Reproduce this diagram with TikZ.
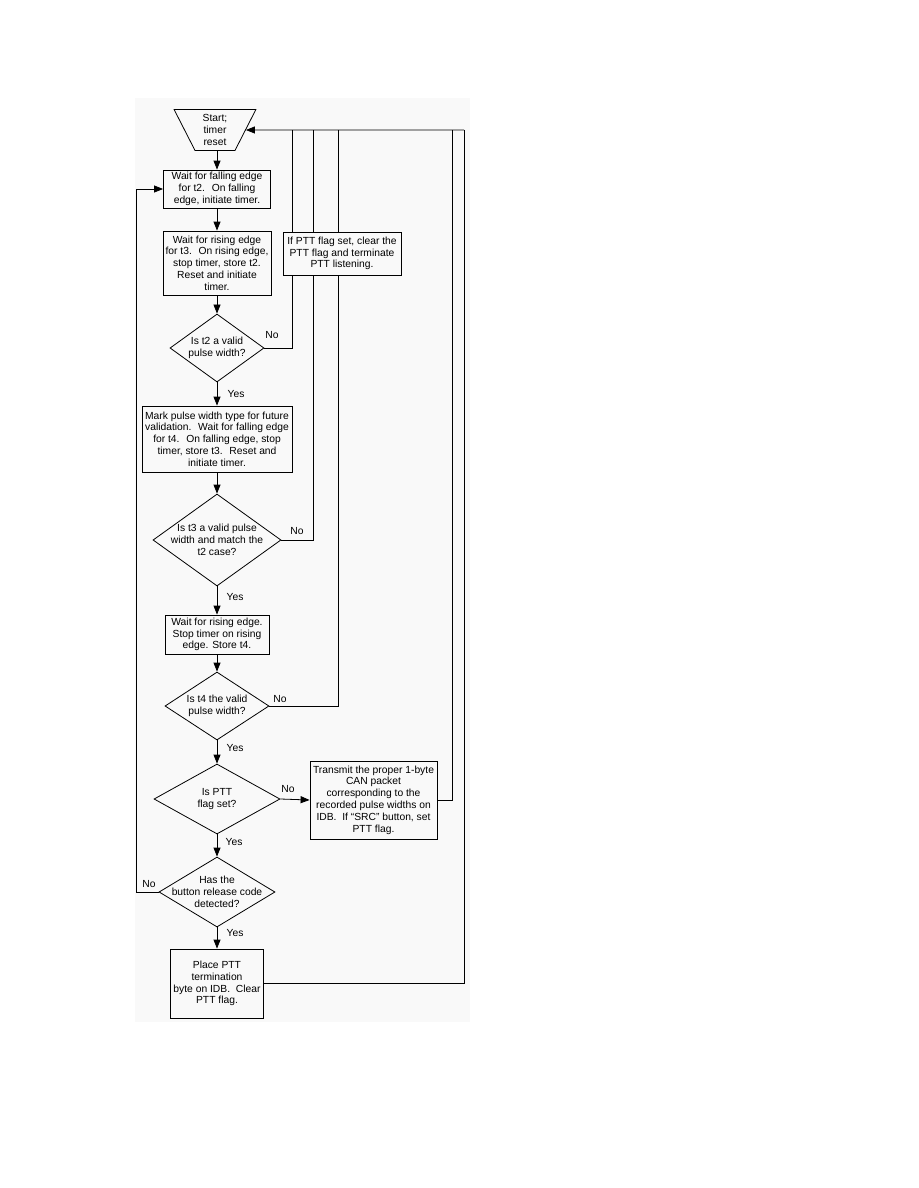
\documentclass[tikz,border=0pt]{standalone}
\usepackage{fontspec}
\setmainfont{Liberation Sans}
\usetikzlibrary{shapes.geometric,arrows.meta,calc}
\definecolor{bgc}{gray}{0.975}
\begin{document}
\begin{tikzpicture}[x=1pt,y=-1pt,
  every node/.style={font=\fontsize{10.3}{11.8}\selectfont},
  box/.style={draw, line width=0.8pt, fill=bgc, align=center, inner sep=0pt},
  dia/.style={draw, diamond, line width=0.8pt, fill=bgc, inner sep=0pt, aspect=1},
  txt/.style={align=center, inner sep=0pt},
  lbl/.style={inner sep=0pt},
  ln/.style={line width=0.8pt},
  arr/.style={line width=0.8pt, -{Triangle[length=9pt,width=7pt]}}]
\useasboundingbox (0,0) rectangle (918,1188);
\fill[bgc] (135,98) rectangle (470,1022);

% start
\node[trapezium, draw, line width=0.8pt, fill=bgc, trapezium stretches=true,
  shape border rotate=180, trapezium angle=67, minimum width=82pt,
  minimum height=41pt, inner sep=1pt, align=center] (start) at (215,130)
  {Start;\\timer\\reset};

\node[box, minimum width=107pt, minimum height=38pt] (wait1) at (217,189)
  {Wait for falling edge\\for t2.~ On falling\\edge, initiate timer.};
\node[box, minimum width=108pt, minimum height=64pt] (wait2) at (217,263)
  {Wait for rising edge\\for t3.~ On rising edge,\\stop timer, store t2.\\Reset and initiate\\timer.};

\node[dia, minimum width=94pt, minimum height=68pt] (d1) at (217,348) {};
\node[txt] (d1t) at (d1) {Is t2 a valid\\pulse width?};

\node[box, minimum width=150pt, minimum height=66pt] (mark) at (217,439)
  {Mark pulse width type for future\\validation.~ Wait for falling edge\\for t4.~ On falling edge, stop\\timer, store t3.~ Reset and\\initiate timer.};

\node[dia, minimum width=128pt, minimum height=92pt] (d2) at (217,540) {};
\node[txt] (d2t) at (d2) {Is t3 a valid pulse\\width and match the\\t2 case?};

\node[box, minimum width=104pt, minimum height=39pt] (wait3) at (217,634.5)
  {Wait for rising edge.\\Stop timer on rising\\edge. Store t4.};

\node[dia, minimum width=104pt, minimum height=68pt] (d3) at (217,706) {};
\node[txt] (d3t) at (d3) {Is t4 the valid\\pulse width?};

\node[dia, minimum width=126pt, minimum height=70pt] (d4) at (217,799) {};
\node[txt] (d4t) at (d4) {Is PTT\\flag set?};

\node[box, minimum width=127pt, minimum height=78pt] (trans) at (373.5,800)
  {Transmit the proper 1-byte\\CAN packet\\corresponding to the\\recorded pulse widths on\\IDB.~ If “SRC” button, set\\PTT flag.};

\node[dia, minimum width=116pt, minimum height=70pt] (d5) at (217,892) {};
\node[txt] (d5t) at (d5) {Has the\\button release code\\detected?};

\node[box, minimum width=93pt, minimum height=69pt] (place) at (217,983.5)
  {Place PTT\\termination\\byte on IDB.~ Clear\\PTT flag.};

% coordinates for return lines
\coordinate (c1) at (292,130);
\coordinate (c2) at (313,130);
\coordinate (c3) at (338,130);
\coordinate (c4) at (452,130);
\coordinate (c5) at (464,130);
\coordinate (lx) at (136,189);

% main flow
\draw[arr] (start.south -| wait1.north) -- (wait1.north);
\draw[arr] (wait1) -- (wait2);
\draw[arr] (wait2) -- (d1);
\draw[arr] (d1) -- (mark);
\draw[arr] (mark) -- (d2);
\draw[arr] (d2) -- (wait3);
\draw[arr] (wait3) -- (d3);
\draw[arr] (d3) -- (d4);
\draw[arr] (d4) -- (d5);
\draw[arr] (d5) -- (place);
\draw[arr] (d4.east) -- (trans.west);

% return lines
\draw[ln] (d1.east) -| (c1);
\draw[ln] (d2.east) -| (c2);
\draw[ln] (d3.east) -| (c3);
\draw[ln] (trans.east) -| (c4);
\draw[ln] (place.east) -| (c5);
\draw[arr] (c5) -- (start.east);
\draw[arr] (d5.west) -| (lx) -- (wait1.west);

% box drawn over the lines
\node[box, minimum width=118pt, minimum height=43pt] (ptt) at (342,253.5)
  {If PTT flag set, clear the\\PTT flag and terminate\\PTT listening.};

% labels
\node[lbl] (no1) at (272,335) {No};
\node[lbl] (yes1) at (236,394) {Yes};
\node[lbl] (no2) at (297,531) {No};
\node[lbl] (yes2) at (235,597) {Yes};
\node[lbl] (no3) at (280,699) {No};
\node[lbl] (yes3) at (235,748) {Yes};
\node[lbl] (no4) at (288,789) {No};
\node[lbl] (yes4) at (234,842) {Yes};
\node[lbl] (no5) at (149,884) {No};
\node[lbl] (yes5) at (235,933) {Yes};
\end{tikzpicture}
\end{document}
